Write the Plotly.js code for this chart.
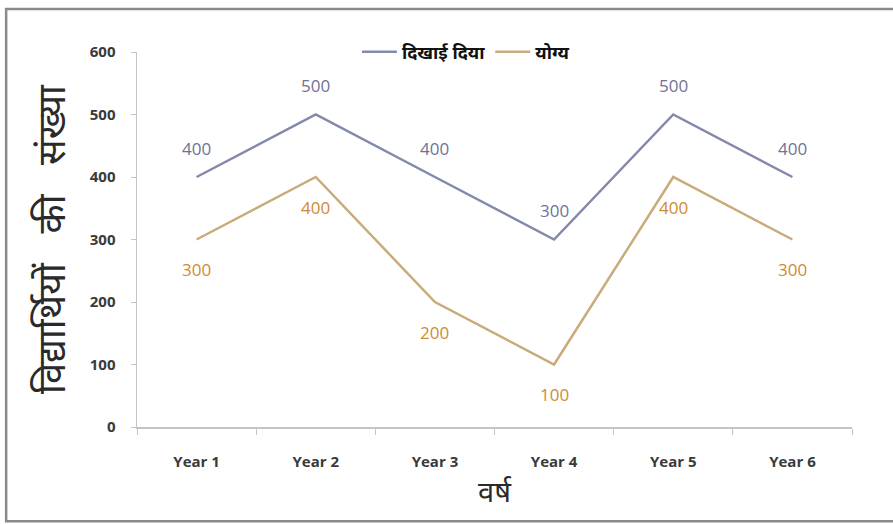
<!DOCTYPE html>
<html>
<head>
<meta charset="utf-8">
<script src="https://cdn.plot.ly/plotly-3.0.1.min.js"></script>
<style>html,body{margin:0;padding:0;background:#fff;}#chart{width:893px;height:524px;}</style>
</head>
<body>
<div id="chart"></div>
<script>
const categories = ["Year 1", "Year 2", "Year 3", "Year 4", "Year 5", "Year 6"];
const seenValues = [400, 500, 400, 300, 500, 400];
const qualifiedValues = [300, 400, 200, 100, 400, 300];
const seriesNames = ["दिखाई दिया", "योग्य"];
const yTicks = [0, 100, 200, 300, 400, 500, 600];

const blueLine = "#8389ad";
const tanLine = "#c9ab7c";
const blueText = "#6e7296";
const tanText = "#cf8a34";
const font = "Open Sans, Noto Sans, Liberation Sans, sans-serif";

const traces = [
  {x: categories, y: seenValues, name: seriesNames[0], type: "scatter", mode: "lines",
   line: {color: blueLine, width: 2.5}},
  {x: categories, y: qualifiedValues, name: seriesNames[1], type: "scatter", mode: "lines",
   line: {color: tanLine, width: 2.5}}
];

const annotations = [];
categories.forEach((c, i) => {
  annotations.push({x: c, y: seenValues[i], text: String(seenValues[i]), showarrow: false,
    yshift: 29, font: {family: font, size: 17, color: blueText}});
  annotations.push({x: c, y: qualifiedValues[i], text: String(qualifiedValues[i]), showarrow: false,
    yshift: -30, font: {family: font, size: 17, color: tanText}});
});

const layout = {
  width: 893, height: 524,
  margin: {l: 137, r: 41, t: 52, b: 97},
  paper_bgcolor: "#ffffff", plot_bgcolor: "#ffffff",
  showlegend: true,
  legend: {orientation: "h", x: 0.46, xanchor: "center", y: 1.0, yanchor: "middle",
    font: {family: font, size: 18, color: "#111111", weight: "bold"}, itemwidth: 35},
  xaxis: {
    type: "category", tickvals: categories, showgrid: false, zeroline: false,
    showline: true, linecolor: "#c4c4c4", linewidth: 1.5,
    ticks: "outside", tickson: "boundaries", ticklen: 6, tickcolor: "#c4c4c4",
    ticklabelstandoff: 20,
    tickfont: {family: font, size: 15, color: "#3a3a3a", weight: "bold"},
    range: [-0.5, 5.5],
    title: {text: "वर्ष", font: {family: font, size: 29, color: "#2a2a2a"}, standoff: 12}
  },
  yaxis: {
    range: [0, 600], tickvals: yTicks, showgrid: false, zeroline: false,
    showline: true, linecolor: "#c4c4c4", linewidth: 1.5,
    ticks: "outside", ticklen: 5, tickcolor: "#c4c4c4",
    ticklabelstandoff: 12,
    tickfont: {family: font, size: 15, color: "#3a3a3a", weight: "bold"},
    title: {text: "विद्यार्थियों\u00a0\u00a0 की\u00a0\u00a0 संख्या", font: {family: font, size: 38, color: "#2a2a2a"}, standoff: 12}
  },
  annotations: annotations,
  shapes: [
    {type: "rect", xref: "paper", yref: "paper", x0: -0.183, x1: 1.06, y0: -0.251, y1: 1.115,
     line: {color: "#8a8a8a", width: 2.5}, fillcolor: "rgba(0,0,0,0)", layer: "below"}
  ]
};

Plotly.newPlot("chart", traces, layout, {displayModeBar: false, staticPlot: true});
</script>
</body>
</html>
